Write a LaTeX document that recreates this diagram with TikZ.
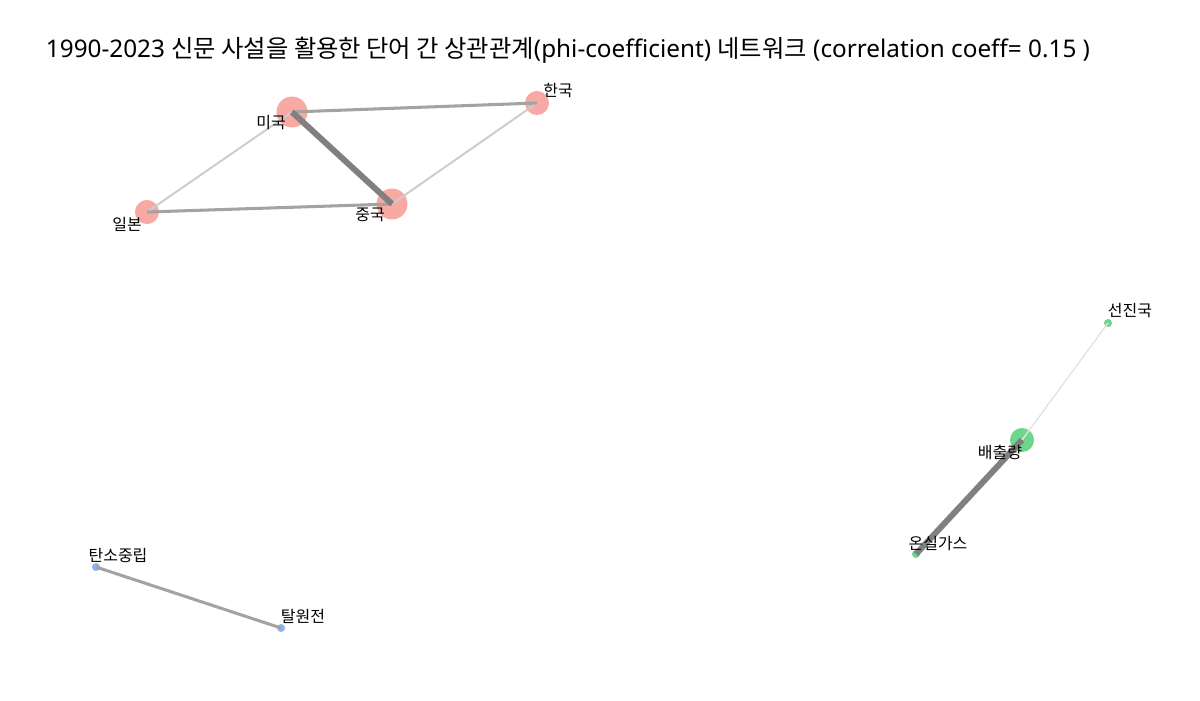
\documentclass[tikz,border=0pt]{standalone}
\usepackage{fontspec}
\setmainfont{Noto Sans}
\newfontfamily\kr{Noto Sans CJK KR}
\usetikzlibrary{positioning}

\definecolor{nodered}{HTML}{F9A9A4}
\definecolor{nodegreen}{HTML}{6DD58C}
\definecolor{nodeblue}{HTML}{8AB4F8}

\begin{document}
\begin{tikzpicture}[
        x=0.72pt, y=-0.72pt,
        word/.style = {circle, inner sep=0pt, draw=none},
        big/.style = {word, minimum size=22.3pt},
        mid/.style = {word, minimum size=17.3pt},
        small/.style = {word, minimum size=5.8pt},
        lbl/.style = {font=\kr\fontsize{11.5}{13}\selectfont, inner sep=0pt},
        strong/.style = {draw=black!50, line width=4.3pt},
        medium/.style = {draw=black!36, line width=2.2pt},
        weak/.style = {draw=black!20, line width=1.4pt},
        faint/.style = {draw=black!11, line width=1pt}
    ]
    \useasboundingbox (0,0) rectangle (1200,700);
    \node[font=\fontsize{17.5}{20}\selectfont] (Title) at (568,50)
        {1990-2023 {\kr 신문 사설을 활용한 단어 간 상관관계}(phi-coefficient) {\kr 네트워크} (correlation coeff= 0.15 )};

    \node[big, fill=nodered] (MiGuk) at (292,112) {};
    \node[mid, fill=nodered] (HanGuk) at (537,103) {};
    \node[big, fill=nodered] (JungGuk) at (392,204) {};
    \node[mid, fill=nodered] (IlBon) at (147,212) {};

    \node[mid, fill=nodegreen] (BaeChul) at (1022,440) {};
    \node[small, fill=nodegreen] (SeonJin) at (1108,323) {};
    \node[small, fill=nodegreen] (OnSil) at (916,554) {};

    \node[small, fill=nodeblue] (TanSo) at (96,567) {};
    \node[small, fill=nodeblue] (TalWon) at (281,628) {};

    \draw[weak] (IlBon.center) -- (MiGuk.center);
    \draw[weak] (JungGuk.center) -- (HanGuk.center);
    \draw[medium] (IlBon.center) -- (JungGuk.center);
    \draw[medium] (MiGuk.center) -- (HanGuk.center);
    \draw[strong] (MiGuk.center) -- (JungGuk.center);
    \draw[faint] (BaeChul.center) -- (SeonJin.center);
    \draw[strong] (BaeChul.center) -- (OnSil.center);
    \draw[medium] (TanSo.center) -- (TalWon.center);

    \node[lbl] (MiGukLbl) at (271,123) {미국};
    \node[lbl] (HanGukLbl) at (558,91) {한국};
    \node[lbl] (JungGukLbl) at (370,215) {중국};
    \node[lbl] (IlBonLbl) at (127,224) {일본};
    \node[lbl] (BaeChulLbl) at (1000,452) {배출량};
    \node[lbl] (SeonJinLbl) at (1130,311) {선진국};
    \node[lbl] (OnSilLbl) at (938,543) {온실가스};
    \node[lbl] (TanSoLbl) at (118,555) {탄소중립};
    \node[lbl] (TalWonLbl) at (303,616) {탈원전};
\end{tikzpicture}
\end{document}
